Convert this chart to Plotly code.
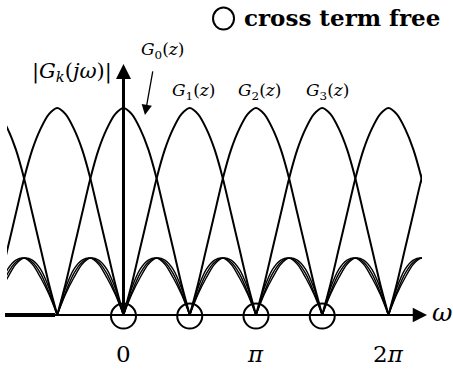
import plotly.graph_objects as go

# Magnitude responses |G_k(jw)| of a 4-channel modulated filter bank.
# Frequencies are in units of pi; lobe samples are spaced pi/16 apart.
main_lobe_steps = list(range(-8, 9))
main_lobe = [0.00, 0.15, 0.32, 0.49, 0.66, 0.80, 0.90, 0.97, 1.00,
             0.97, 0.90, 0.80, 0.66, 0.49, 0.32, 0.15, 0.00]

side_lobe_steps = list(range(0, 9))
side_lobe_early = [0.00, 0.13, 0.22, 0.265, 0.275, 0.245, 0.18, 0.10, 0.00]
side_lobe_even = [0.00, 0.11, 0.20, 0.255, 0.275, 0.255, 0.20, 0.11, 0.00]
side_lobe_late = [0.00, 0.10, 0.18, 0.245, 0.275, 0.265, 0.22, 0.13, 0.00]

# main-lobe centres (multiples of pi) of each channel inside the drawn span
main_lobe_centres = {
    0: [0.0, 2.0],
    1: [0.5, 2.5],
    2: [-1.0, 1.0],
    3: [-0.5, 1.5],
}
side_lobe_starts = [-1.0, -0.5, 0.0, 0.5, 1.0, 1.5, 2.0]

cross_term_free = [0.0, 0.5, 1.0, 1.5]
tick_values = [0, 1, 2]
tick_labels = ["0", "<i>π</i>", "2<i>π</i>"]
channel_labels = ["<i>G</i><sub>1</sub>(<i>z</i>)",
                  "<i>G</i><sub>2</sub>(<i>z</i>)",
                  "<i>G</i><sub>3</sub>(<i>z</i>)"]
channel_label_x = [0.532, 1.023, 1.543]

W, H = 453, 370
X_RANGE = [-0.932, 2.487]
Y_RANGE = [-0.2657, 1.5217]
CURVE_RANGE = [-0.879, 2.253]
FONT = "'DejaVu Serif', serif"


def frac(v, rng):
    return (v - rng[0]) / (rng[1] - rng[0])


fig = go.Figure()

# main lobes, one trace per channel
for k, centres in main_lobe_centres.items():
    xs, ys = [], []
    for c in centres:
        xs += [c + s / 16 for s in main_lobe_steps] + [None]
        ys += main_lobe + [None]
    fig.add_trace(go.Scatter(
        x=xs, y=ys, mode="lines", name=f"G{k}",
        line=dict(color="black", width=2, shape="spline", smoothing=0.8),
        xaxis="x2", yaxis="y2", hoverinfo="skip"))

# side lobes
for name, lobe in [("early", side_lobe_early), ("even", side_lobe_even),
                   ("late", side_lobe_late)]:
    xs, ys = [], []
    for s0 in side_lobe_starts:
        xs += [s0 + s / 16 for s in side_lobe_steps] + [None]
        ys += lobe + [None]
    fig.add_trace(go.Scatter(
        x=xs, y=ys, mode="lines", name=f"side lobe ({name})",
        line=dict(color="black", width=1.4, shape="spline", smoothing=0.8),
        xaxis="x2", yaxis="y2", hoverinfo="skip"))

ann = []
# frequency axis
ann.append(dict(x=2.291, y=0, ax=-0.894, ay=0, xref="x", yref="y",
                axref="x", ayref="y", text="", showarrow=True,
                arrowhead=2, arrowsize=1.3, arrowwidth=2.2, arrowcolor="black"))
# magnitude axis
ann.append(dict(x=0.0, y=1.2126, ax=0.0, ay=-0.012, xref="x", yref="y",
                axref="x", ayref="y", text="", showarrow=True,
                arrowhead=2, arrowsize=1.0, arrowwidth=3, arrowcolor="black"))
# pointer to G0
ann.append(dict(x=0.162, y=0.966, ax=0.223, ay=1.184, xref="x", yref="y",
                axref="x", ayref="y", text="", showarrow=True,
                arrowhead=2, arrowsize=1.6, arrowwidth=1.3, arrowcolor="black"))

ann.append(dict(x=2.404, y=0.012, xref="x", yref="y", text="<i>ω</i>",
                showarrow=False, font=dict(family=FONT, size=25, color="black")))
for tv, tl in zip(tick_values, tick_labels):
    ann.append(dict(x=tv, y=-0.19, xref="x", yref="y", text=tl,
                    showarrow=False, font=dict(family=FONT, size=23, color="black")))
ann.append(dict(x=-0.385, y=1.174, xref="x", yref="y",
                text="|<i>G</i><sub><i>k</i></sub>(<i>jω</i>)|",
                showarrow=False, font=dict(family=FONT, size=21, color="black")))
ann.append(dict(x=0.298, y=1.28, xref="x", yref="y",
                text="<i>G</i><sub>0</sub>(<i>z</i>)",
                showarrow=False, font=dict(family=FONT, size=17, color="black")))
for lx, lt in zip(channel_label_x, channel_labels):
    ann.append(dict(x=lx, y=1.082, xref="x", yref="y", text=lt,
                    showarrow=False, font=dict(family=FONT, size=17, color="black")))
ann.append(dict(x=0.894, y=1.435, xref="x", yref="y", xanchor="left",
                text="<b>cross term free</b>", showarrow=False,
                font=dict(family=FONT, size=23, color="black")))

shapes = [
    # thicker lead-in of the frequency axis
    dict(type="line", xref="x", yref="y", x0=-0.894, x1=-0.517, y0=0, y1=0,
         line=dict(color="black", width=4)),
]
for w in cross_term_free:
    shapes.append(dict(type="circle", xref="x", yref="y", xsizemode="pixel",
                       ysizemode="pixel", xanchor=w, yanchor=-0.005,
                       x0=-12.5, x1=12.5, y0=-12.5, y1=12.5,
                       line=dict(color="black", width=2)))
shapes.append(dict(type="circle", xref="x", yref="y", xsizemode="pixel",
                   ysizemode="pixel", xanchor=0.755, yanchor=1.432,
                   x0=-10.5, x1=10.5, y0=-11, y1=11,
                   line=dict(color="black", width=2)))

hidden = dict(visible=False, showgrid=False, zeroline=False, fixedrange=True)
fig.update_layout(
    width=W, height=H, autosize=False,
    margin=dict(l=0, r=0, t=0, b=0, pad=0),
    paper_bgcolor="white", plot_bgcolor="rgba(0,0,0,0)",
    showlegend=False,
    xaxis=dict(range=X_RANGE, domain=[0, 1], anchor="y", **hidden),
    yaxis=dict(range=Y_RANGE, domain=[0, 1], anchor="x", **hidden),
    xaxis2=dict(range=CURVE_RANGE,
                domain=[frac(CURVE_RANGE[0], X_RANGE), frac(CURVE_RANGE[1], X_RANGE)],
                anchor="y2", **hidden),
    yaxis2=dict(range=Y_RANGE, domain=[0, 1], anchor="x2", **hidden),
    annotations=ann,
    shapes=shapes,
)

fig.write_html("out.html", config=dict(displayModeBar=False))
